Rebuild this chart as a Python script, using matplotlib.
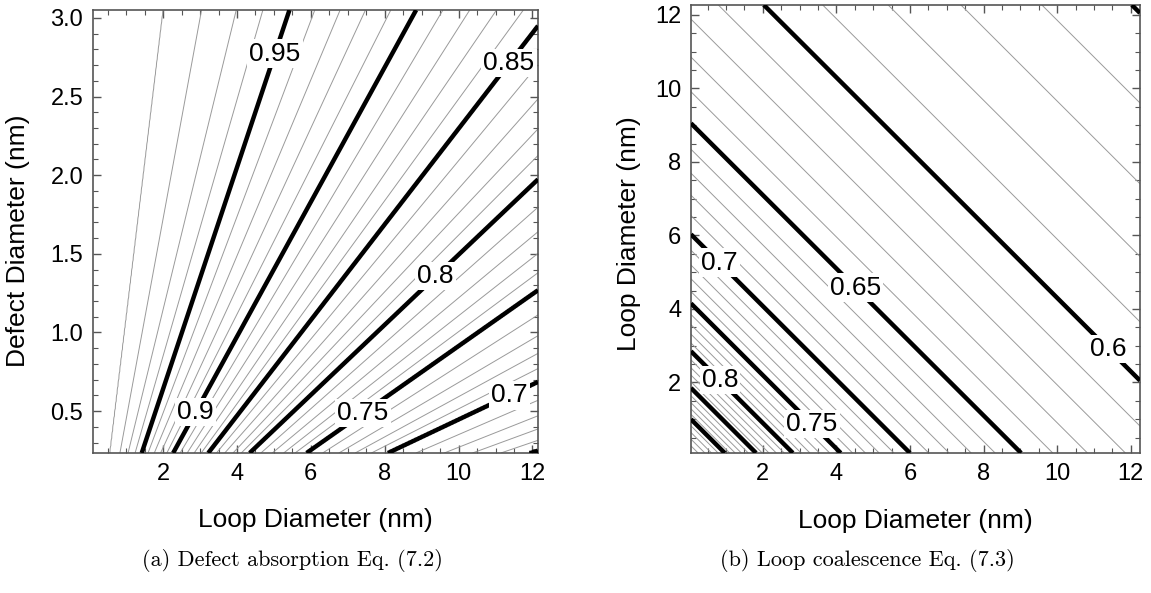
import matplotlib
matplotlib.use('Agg')
import matplotlib.pyplot as plt
from matplotlib.ticker import MultipleLocator
import numpy as np

plt.rcParams['font.family'] = ['Liberation Sans', 'DejaVu Sans']

# ─── Data ──────────────────────────────────────────────────────
# (a) defect absorption: each contour is a straight line; x where it
# meets the bottom edge and the top edge (extended past the frame)
levels_a = [1.00, 0.99, 0.98, 0.97, 0.96, 0.95, 0.90, 0.85, 0.80, 0.75, 0.70, 0.65, 0.60]
bottom_a = [-1.0, 0.56, 0.83, 1.05, 1.24, 1.42, 2.27, 3.22, 4.34, 5.88, 8.08, 11.91, 30.0]
top_a    = [-1.0, 2.00, 3.04, 3.98, 4.70, 5.42, 8.85, 12.48, 16.98, 22.93, 33.4, 49.5, 120.0]
xlim_a = (0.10, 12.15)
ylim_a = (0.234, 3.05)

# (b) loop coalescence: contours are lines x + y = s
levels_b = [0.96, 0.95, 0.94, 0.93, 0.92, 0.91, 0.90, 0.85, 0.80, 0.75, 0.70, 0.65, 0.60, 0.55, 0.50]
s_b      = [0.05, 0.12, 0.33, 0.51, 0.69, 0.87, 1.05, 1.90, 2.90, 4.20, 6.08, 9.10, 14.3, 24.3, 50.0]
xlim_b = (0.05, 12.25)
ylim_b = (0.08, 12.27)

thick_a = [0.65, 0.70, 0.75, 0.80, 0.85, 0.90, 0.95]
thick_b = [0.55, 0.60, 0.65, 0.70, 0.75, 0.80, 0.85, 0.90]
thin_a = [k / 100 for k in range(61, 100) if k % 5]
thin_b = [k / 100 for k in range(51, 96) if k % 5]

labels_a = [(5.07, 2.77), (2.92, 0.49), (11.37, 2.71), (9.37, 1.36), (7.43, 0.48), (11.37, 0.60)]
labels_b = [(0.83, 5.27), (4.53, 4.59), (0.83, 2.05), (3.3, 0.83), (11.43, 2.95)]

# ─── Fields ────────────────────────────────────────────────────
xa = np.linspace(*xlim_a, 500)
ya = np.linspace(*ylim_a, 300)
Za = np.empty((ya.size, xa.size))
bot = np.array(bottom_a)
top = np.array(top_a)
for i, y in enumerate(ya):
    t = (y - ylim_a[0]) / (ylim_a[1] - ylim_a[0])
    Za[i] = np.interp(xa, bot + (top - bot) * t, levels_a)

xb = np.linspace(*xlim_b, 400)
yb = np.linspace(*ylim_b, 400)
Xb, Yb = np.meshgrid(xb, yb)
Zb = np.interp(np.log(Xb + Yb), np.log(s_b), levels_b)

# ─── Figure ────────────────────────────────────────────────────
fig = plt.figure(figsize=(11.51, 5.93), dpi=100)
ax1 = fig.add_axes([0.0808, 0.2361, 0.3866, 0.747])
ax2 = fig.add_axes([0.6003, 0.2361, 0.3901, 0.7555])

THIN = '#9a9a9a'
FRAME = '#555555'


def style(ax, xlim, ylim, ymajor, yminor):
    ax.set_xlim(xlim)
    ax.set_ylim(ylim)
    ax.xaxis.set_major_locator(MultipleLocator(2))
    ax.xaxis.set_minor_locator(MultipleLocator(0.5))
    ax.yaxis.set_major_locator(MultipleLocator(ymajor))
    ax.yaxis.set_minor_locator(MultipleLocator(yminor))
    ax.tick_params(which='both', direction='in', top=True, right=True,
                   color=FRAME, labelsize=17, pad=7)
    ax.tick_params(which='major', length=6, width=1)
    ax.tick_params(which='minor', length=3.5, width=0.8)
    for sp in ax.spines.values():
        sp.set_color(FRAME)
        sp.set_linewidth(1.2)
    ax.set_xlabel('Loop Diameter (nm)', fontsize=19)
    ax.xaxis.set_label_coords(0.5, -0.125)


def draw(ax, X, Y, Z, thin, thick, pos):
    ax.contour(X, Y, Z, levels=thin, colors=THIN, linewidths=0.7, zorder=2)
    cs = ax.contour(X, Y, Z, levels=thick, colors='black', linewidths=3.2, zorder=3)
    txt = ax.clabel(cs, manual=pos, inline=False, fontsize=19,
                    fmt=lambda v: f'{v:g}')
    for t in txt:
        t.set_rotation(0)
        t.set_bbox(dict(facecolor='white', edgecolor='none', pad=1.5))
        t.set_zorder(5)


draw(ax1, xa, ya, Za, thin_a, thick_a, labels_a)
style(ax1, xlim_a, ylim_a, 0.5, 0.1)
ax1.yaxis.set_major_formatter(lambda v, p: f'{v:.1f}')
ax1.set_ylabel('Defect Diameter (nm)', fontsize=19)
ax1.yaxis.set_label_coords(-0.141, 0.48)

draw(ax2, xb, yb, Zb, thin_b, thick_b, labels_b)
style(ax2, xlim_b, ylim_b, 2, 0.5)
ax2.set_ylabel('Loop Diameter (nm)', fontsize=19)
ax2.yaxis.set_label_coords(-0.111, 0.49)

# ─── Captions ──────────────────────────────────────────────────
fig.text(0.254, 0.054, '(a) Defect absorption Eq. (7.2)', family='cmr10',
         fontsize=16, ha='center', va='center')
fig.text(0.754, 0.054, '(b) Loop coalescence Eq. (7.3)', family='cmr10',
         fontsize=16, ha='center', va='center')

fig.savefig('out.png', dpi=100, facecolor='white')
